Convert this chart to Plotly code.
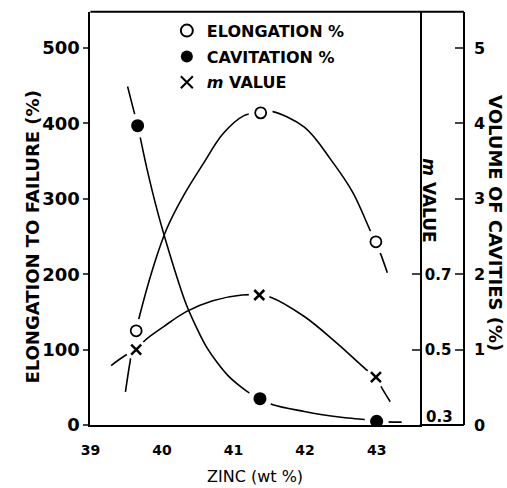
import plotly.graph_objects as go

# ---- data ----
zinc_ticks = [39, 40, 41, 42, 43]
elong_ticks = [0, 100, 200, 300, 400, 500]
m_ticks = [0.5, 0.7]
vol_ticks = [0, 1, 2, 3, 4, 5]

# measured points
elong_pts_x = [39.64, 41.38, 42.99]
elong_pts_y = [125, 414, 243]
cav_pts_x = [39.66, 41.37, 43.0]
cav_pts_y = [3.97, 0.35, 0.05]
m_pts_x = [39.64, 41.36, 42.99]
m_pts_y = [0.50, 0.645, 0.427]

# hand-drawn fitted curves
elong_curve_x = [39.49, 39.56, 39.64, 39.68, 39.89, 40.07, 40.30, 40.58, 40.85, 41.14, 41.38,
                 41.53, 41.99, 42.36, 42.67, 42.92, 42.99, 43.06, 43.15]
elong_curve_y = [44, 87, 125, 142, 213, 261, 304, 347, 386, 410, 415,
                 416, 395, 352, 308, 256, 243, 226, 202]
cav_curve_x = [39.52, 39.59, 39.66, 39.79, 39.93, 40.07, 40.21, 40.34, 40.48, 40.62, 40.78,
               40.93, 41.10, 41.23, 41.37, 41.55, 41.99, 42.22, 42.53, 42.85, 43.0, 43.35]
cav_curve_y = [4.49, 4.23, 3.97, 3.40, 2.86, 2.39, 1.96, 1.60, 1.30, 1.04, 0.82,
               0.65, 0.51, 0.42, 0.35, 0.27, 0.18, 0.14, 0.10, 0.07, 0.05, 0.04]
m_curve_x = [39.29, 39.48, 39.64, 39.77, 40.03, 40.34, 40.71, 41.12, 41.36, 41.51, 41.99,
             42.44, 42.85, 42.99, 43.08, 43.19]
m_curve_y = [0.458, 0.484, 0.50, 0.526, 0.562, 0.601, 0.630, 0.645, 0.645, 0.640, 0.588,
             0.518, 0.448, 0.427, 0.396, 0.362]

FONT = "DejaVu Sans"
W, H = 507, 488
X0, X1 = 82, 418      # plot area px
XOUT = 463            # outer right axis px
YB, YT = 434, 12      # bottom/top px
ytop_val = (YB - YT) / 0.77
dom_y = [(H - YB) / H, (H - YT) / H]
rng_el = [0, ytop_val]
rng_m = [0.3, 0.3 + ytop_val * 0.002]
rng_v = [0, ytop_val / 100]

fig = go.Figure()
line = dict(color="black", width=1.6, shape="spline", smoothing=1.0)

# curves (each on its own scale)
fig.add_trace(go.Scatter(x=elong_curve_x, y=elong_curve_y, mode="lines", line=line,
                         showlegend=False, hoverinfo="skip", yaxis="y"))
fig.add_trace(go.Scatter(x=m_curve_x, y=m_curve_y, mode="lines", line=line,
                         yaxis="y2", showlegend=False, hoverinfo="skip"))
fig.add_trace(go.Scatter(x=cav_curve_x, y=cav_curve_y, mode="lines", line=line,
                         yaxis="y3", showlegend=False, hoverinfo="skip"))

# white halos to break the lines near the markers (layers above all curves)
halo = dict(color="white", size=24, line=dict(width=0))
fig.add_trace(go.Scatter(x=elong_pts_x, y=elong_pts_y, mode="markers", marker=halo,
                         yaxis="y4", showlegend=False, hoverinfo="skip"))
fig.add_trace(go.Scatter(x=m_pts_x, y=m_pts_y, mode="markers", marker=dict(halo, size=21),
                         yaxis="y5", showlegend=False, hoverinfo="skip"))
fig.add_trace(go.Scatter(x=cav_pts_x, y=cav_pts_y, mode="markers", marker=halo,
                         yaxis="y6", showlegend=False, hoverinfo="skip"))

# markers
fig.add_trace(go.Scatter(x=elong_pts_x, y=elong_pts_y, mode="markers", name="ELONGATION %",
                         legendgroup="a", yaxis="y7",
                         marker=dict(symbol="circle", size=11, color="white",
                                     line=dict(color="black", width=1.8))))
fig.add_trace(go.Scatter(x=cav_pts_x, y=cav_pts_y, mode="markers", name="CAVITATION %",
                         legendgroup="b", yaxis="y9",
                         marker=dict(symbol="circle", size=13, color="black",
                                     line=dict(color="black", width=0))))
fig.add_trace(go.Scatter(x=m_pts_x, y=m_pts_y, mode="markers", name="<i>m</i> VALUE",
                         legendgroup="c", yaxis="y8",
                         marker=dict(symbol="x-thin", size=10, color="black",
                                     line=dict(color="black", width=2.5))))


def silent(rng):
    # overlay axis that is "visible" (so its layer is drawn) but shows nothing
    return dict(overlaying="y", anchor="x", side="right", range=rng, visible=True,
                showticklabels=False, ticks="", showline=False,
                showgrid=False, zeroline=False)


fig.update_layout(
    width=W, height=H,
    margin=dict(l=0, r=0, t=0, b=0),
    paper_bgcolor="white", plot_bgcolor="white",
    font=dict(family=FONT, color="black"),
    xaxis=dict(domain=[X0 / W, X1 / W], range=[39, 39 + (X1 - X0) / 73.0],
               tickvals=zinc_ticks, ticks="", showgrid=False, zeroline=False,
               showline=True, linecolor="black", linewidth=2,
               tickfont=dict(size=14, weight="bold"), ticklabelstandoff=11,
               title=dict(text="ZINC (wt %)", font=dict(size=16), standoff=14)),
    yaxis=dict(domain=dom_y, range=rng_el, tickvals=elong_ticks,
               ticks="outside", ticklen=5, tickwidth=2, showgrid=False, zeroline=False,
               showline=True, linecolor="black", linewidth=2,
               tickfont=dict(size=18, weight="bold")),
    yaxis2=dict(overlaying="y", side="right", anchor="x", range=rng_m, tickvals=m_ticks,
                ticks="inside", ticklen=8, tickwidth=2, showgrid=False, zeroline=False,
                showline=True, linecolor="black", linewidth=2,
                tickfont=dict(size=15, weight="bold")),
    yaxis3=dict(overlaying="y", side="right", anchor="free", position=XOUT / W,
                range=rng_v, tickvals=vol_ticks,
                ticks="inside", ticklen=8, tickwidth=2, showgrid=False, zeroline=False,
                showline=True, linecolor="black", linewidth=2, ticklabelstandoff=6,
                tickfont=dict(size=16, weight="bold")),
    yaxis4=silent(rng_el), yaxis5=silent(rng_m), yaxis6=silent(rng_v),
    yaxis7=silent(rng_el), yaxis8=silent(rng_m), yaxis9=silent(rng_v),
    legend=dict(x=160 / W, y=(H - 14) / H, xanchor="left", yanchor="top",
                bgcolor="rgba(0,0,0,0)", tracegroupgap=2,
                font=dict(size=16, weight="bold"), itemsizing="constant"),
    showlegend=True,
)

# frame lines (top border and bottom between the two right axes)
fig.add_shape(type="line", xref="paper", yref="paper", x0=X0 / W, x1=XOUT / W,
              y0=dom_y[1], y1=dom_y[1], line=dict(color="black", width=2))
fig.add_shape(type="line", xref="paper", yref="paper", x0=X1 / W, x1=XOUT / W,
              y0=dom_y[0], y1=dom_y[0], line=dict(color="black", width=2))

ann = []
ann.append(dict(text="ELONGATION TO FAILURE (%)", x=22 / W, y=(H - 242) / H,
                xanchor="center", yanchor="middle",
                xref="paper", yref="paper", textangle=-90, showarrow=False,
                font=dict(size=18, weight="bold")))
ann.append(dict(text="VOLUME OF CAVITIES (%)", x=495 / W, y=(H - 228) / H,
                xanchor="center", yanchor="middle",
                xref="paper", yref="paper", textangle=90, showarrow=False,
                font=dict(size=18, weight="bold")))
ann.append(dict(text="<i>m</i> VALUE", x=428 / W, y=(H - 204) / H,
                xanchor="center", yanchor="middle",
                xref="paper", yref="paper", textangle=90, showarrow=False,
                font=dict(size=17, weight="bold")))
ann.append(dict(text="0.3", x=422 / W, y=(H - 426) / H, xanchor="left", yanchor="middle",
                xref="paper", yref="paper", showarrow=False,
                font=dict(size=15, weight="bold")))
fig.update_layout(annotations=ann)

fig.write_html("out.html")
